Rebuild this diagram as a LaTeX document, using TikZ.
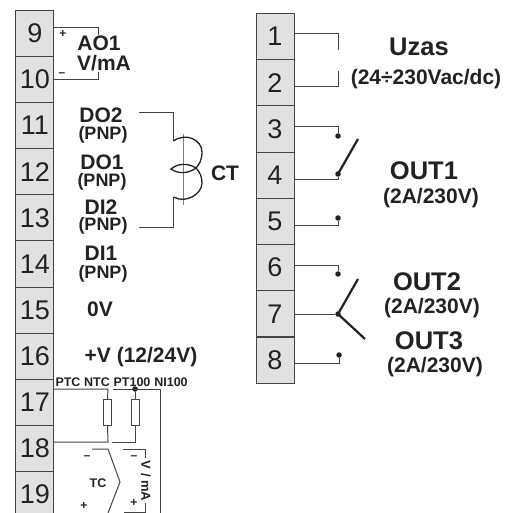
\documentclass[tikz,border=0pt]{standalone}
\usepackage{fontspec}
\setmainfont{Liberation Sans}
\usetikzlibrary{positioning}
\definecolor{cellgray}{HTML}{E1E1E1}
\definecolor{wiregray}{HTML}{444444}
\definecolor{inkgray}{HTML}{222222}

\begin{document}
\begin{tikzpicture}[x=1pt, y=-1pt, >=latex,
  cell/.style={draw=wiregray, fill=cellgray, line width=0.9pt, text=inkgray, inner sep=0pt, outer sep=0pt,
    minimum width=38pt, minimum height=46.1pt, font=\fontsize{27}{27}\selectfont},
  wire/.style={draw=wiregray, line width=1pt},
  blade/.style={draw=inkgray, line width=2.2pt},
  pin/.style={circle, fill=inkgray, inner sep=0pt, outer sep=0pt, minimum size=5.5pt},
  res/.style={draw=wiregray, fill=white, line width=1pt, inner sep=0pt, outer sep=0pt, minimum width=8pt, minimum height=26pt},
  big/.style={text=inkgray, inner sep=0pt, font=\bfseries\fontsize{25.5}{26}\selectfont},
  lab/.style={text=inkgray, inner sep=0pt, font=\bfseries\fontsize{21}{21}\selectfont},
  sub/.style={text=inkgray, inner sep=0pt, font=\bfseries\fontsize{18}{18}\selectfont},
  tiny/.style={text=inkgray, inner sep=0pt, font=\bfseries\fontsize{12.5}{13}\selectfont},
  sign/.style={text=inkgray, inner sep=0pt, font=\bfseries\fontsize{12}{12}\selectfont}]
\useasboundingbox (0,0) rectangle (517,513);
\clip (0,0) rectangle (517,513);

%Terminals
\foreach \i in {9,...,19} {
  \node[cell] (t\i) at (34.8, {33.5+46.1*(\i-9)}) {\i};
}
\foreach \i in {1,...,8} {
  \node[cell] (t\i) at (275, {36.6+46.2*(\i-1)}) {\i};
}

%AO1
\coordinate (aotop) at (98,28);
\coordinate (aotopend) at (98,35);
\coordinate (aobot) at (98,80);
\coordinate (aobotend) at (98,72);
\draw[wire] (t9.east |- aotop) -- (aotop) -- (aotopend);
\draw[wire] (t10.east |- aobot) -- (aobot) -- (aobotend);
\node[sign] (aoplus) at (63,34) {+};
\node[sign] (aominus) at (62,75) {--};
\node[lab] (ao1) at (99,43) {AO1};
\node[lab] (aovma) at (104,63) {V/mA};

%Inputs and outputs on the left
\node[lab] (do2) at (101,115) {DO2};
\node[sub] (do2p) at (103,135) {(PNP)};
\node[lab] (do1) at (102,162) {DO1};
\node[sub] (do1p) at (102,182) {(PNP)};
\node[lab] (di2) at (101,207) {DI2};
\node[sub] (di2p) at (103,226) {(PNP)};
\node[lab] (di1) at (101,253) {DI1};
\node[sub] (di1p) at (103,274) {(PNP)};
\node[lab] (zerov) at (100,309) {0V};
\node[lab] (plusv) at (141,357) {+V (12/24V)};

%CT
\coordinate (ctin) at (139,113);
\coordinate (ctinb) at (173.5,113);
\coordinate (ctcoila) at (173.5,141);
\coordinate (ctcoilb) at (173.5,197);
\coordinate (ctoutb) at (173.5,228);
\coordinate (ctout) at (139,228);
\coordinate (cttop) at (183,134);
\coordinate (ctbot) at (183,205);
\draw[wire] (ctin) -- (ctinb) -- (ctcoila);
\draw[wire] (ctcoilb) -- (ctoutb) -- (ctout);
\draw[draw=gray, line width=1pt] (cttop) -- (ctbot);
\draw[draw=inkgray, line width=1.3pt] (ctcoila) .. controls (186,132) and (202,140) .. (202,152)
  .. controls (202,160) and (199,165) .. (196,168)
  .. controls (188,163) and (178,163) .. (171,169)
  .. controls (178,174) and (188,174) .. (196,168)
  .. controls (200,172) and (202,177) .. (202,183)
  .. controls (202,194) and (186,204) .. (ctcoilb);
\node[lab] (ct) at (225,173) {CT};

%Probes
\node[tiny] (ptc) at (68,382) {PTC};
\node[tiny] (ntc) at (97,382) {NTC};
\node[tiny] (pt100) at (132,382) {PT100};
\node[tiny] (ni100) at (171,382) {NI100};
\node[res] (ra) at (107.5,412) {};
\node[res] (rb) at (135,412) {};
\node[pin] (rbdot) at (135,389) {};
\coordinate (wa) at (108,389);
\coordinate (wb) at (108,442);
\coordinate (wc) at (113,389);
\coordinate (wd) at (160,389);
\coordinate (we) at (160,513);
\coordinate (wf) at (135,442);
\coordinate (wg) at (112,442);
\draw[wire] (t17.east |- wa) -- (wa) -- (ra.north);
\draw[wire] (ra.south) -- (wb) -- (t18.east |- wb);
\draw[wire] (wc) -- (wd) -- (we);
\draw[wire] (rbdot) -- (rb.north);
\draw[wire] (rb.south) -- (wf) -- (wg);

%TC and V/mA
\coordinate (tca) at (92,449);
\coordinate (tcb) at (108,449);
\coordinate (tcc) at (120,482);
\coordinate (tcd) at (108,513);
\draw[wire] (tca) -- (tcb) -- (tcc) -- (tcd);
\node[tiny] (tc) at (98,483) {TC};
\node[sign] (tcminus) at (87,458) {--};
\node[sign] (tcplus) at (84,506) {+};
\coordinate (vma) at (123,449);
\coordinate (vmb) at (145,449);
\coordinate (vmc) at (145,458);
\coordinate (vmd) at (124,512);
\coordinate (vme) at (145,512);
\coordinate (vmf) at (145,503);
\draw[wire] (vma) -- (vmb) -- (vmc);
\draw[wire] (vmd) -- (vme) -- (vmf);
\node[sign] (vmminus) at (134,458) {--};
\node[sign] (vmplus) at (134,503) {+};
\node[sub, rotate=-90, font=\bfseries\fontsize{13}{13}\selectfont] (vmtxt) at (146,481) {V / mA};

%Supply
\coordinate (ua) at (338,34);
\coordinate (uaend) at (338,50);
\coordinate (ub) at (338,87);
\coordinate (ubend) at (338,71);
\draw[wire] (t1.east |- ua) -- (ua) -- (uaend);
\draw[wire] (t2.east |- ub) -- (ub) -- (ubend);
\node[big] (uzas) at (419,47) {Uzas};
\node[lab] (uzasv) at (426,79) {(24÷230Vac/dc)};

%Relays
\node[pin] (p3) at (338,136) {};
\node[pin] (p4) at (338,174) {};
\node[pin] (p5) at (338,218) {};
\node[pin] (p6) at (338,274) {};
\node[pin] (p7) at (338,314) {};
\node[pin] (p8) at (339,355) {};
\coordinate (ra3) at (338,127);
\coordinate (ra4) at (338,180);
\coordinate (ra5) at (338,226);
\coordinate (ra6) at (338,266);
\coordinate (ra8) at (339,363);
\coordinate (bl4) at (358,139);
\coordinate (bl7a) at (358,279);
\coordinate (bl7b) at (365,339);
\draw[wire] (t3.east |- ra3) -- (ra3) -- (p3);
\draw[wire] (t4.east |- ra4) -- (ra4) -- (p4);
\draw[wire] (t5.east |- ra5) -- (ra5) -- (p5);
\draw[wire] (t6.east |- ra6) -- (ra6) -- (p6);
\draw[wire] (t7.east |- p7) -- (p7);
\draw[wire] (t8.east |- ra8) -- (ra8) -- (p8);
\draw[blade] (p4.center) -- (bl4);
\draw[blade] (bl7a) -- (p7.center) -- (bl7b);
\node[big] (out1) at (424,171) {OUT1};
\node[lab] (out1a) at (431,198) {(2A/230V)};
\node[big] (out2) at (427,282) {OUT2};
\node[lab] (out2a) at (432,308) {(2A/230V)};
\node[big] (out3) at (429,341) {OUT3};
\node[lab] (out3a) at (435,367) {(2A/230V)};
\end{tikzpicture}
\end{document}
